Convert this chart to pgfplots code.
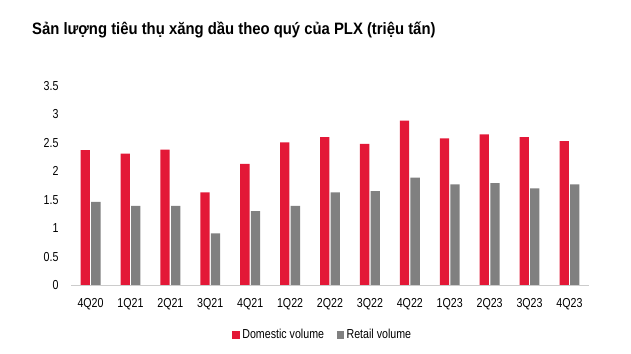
\documentclass[border=0pt]{standalone}
\usepackage{fontspec}
\setmainfont{Liberation Sans}[FakeStretch=0.82]
\newfontfamily\titlefont{Liberation Sans}[FakeStretch=0.9]
\usepackage{pgfplots}
\pgfplotsset{compat=1.18}
\definecolor{dred}{HTML}{E31837}
\definecolor{dgray}{HTML}{808080}
\begin{document}
\begin{tikzpicture}[x=1pt,y=1pt]
\useasboundingbox (0,0) rectangle (631,353);
\node[anchor=base west, inner sep=0pt, font=\titlefont\fontsize{16.5}{18}\selectfont\bfseries] at (32,318) {Sản lượng tiêu thụ xăng dầu theo quý của PLX (triệu tấn)};
\begin{axis}[
  at={(71pt,68pt)}, anchor=south west, scale only axis,
  width=518pt, height=199pt,
  ymin=0, ymax=3.5, ytick={0,0.5,...,3.5},
  xmin=-0.49, xmax=12.49,
  ybar=1.3pt, bar width=9.3pt,
  every axis plot post/.append style={legend image code/.code={\fill[##1] (0pt,-4pt) rectangle (7.5pt,3.5pt);}},
  xtick=data,
  xticklabels={4Q20,1Q21,2Q21,3Q21,4Q21,1Q22,2Q22,3Q22,4Q22,1Q23,2Q23,3Q23,4Q23},
  axis x line*=bottom, axis y line*=left,
  x axis line style={draw=black!20, line width=0.8pt},
  y axis line style={draw=none},
  major tick length=0pt,
  tick style={draw=none},
  /pgf/number format/assume math mode=true,
  ticklabel style={font=\fontsize{13}{14}\selectfont},
  yticklabel style={xshift=-9pt},
  xticklabel style={yshift=-10pt},
  legend style={at={(0.4865,-0.251)}, anchor=center, draw=none, fill=none,
    font=\fontsize{13}{14}\selectfont, legend columns=2,
    nodes={inner sep=2.5pt},
    /tikz/every even column/.append style={column sep=10pt}},
]
\addplot[fill=dred, draw=none] coordinates {(0,2.37) (1,2.31) (2,2.38) (3,1.63) (4,2.13) (5,2.51) (6,2.60) (7,2.48) (8,2.89) (9,2.58) (10,2.65) (11,2.60) (12,2.53)};
\addplot[fill=dgray, draw=none] coordinates {(0,1.46) (1,1.39) (2,1.39) (3,0.91) (4,1.30) (5,1.39) (6,1.63) (7,1.65) (8,1.89) (9,1.77) (10,1.79) (11,1.70) (12,1.77)};
\legend{Domestic volume, Retail volume}
\end{axis}
\end{tikzpicture}
\end{document}
